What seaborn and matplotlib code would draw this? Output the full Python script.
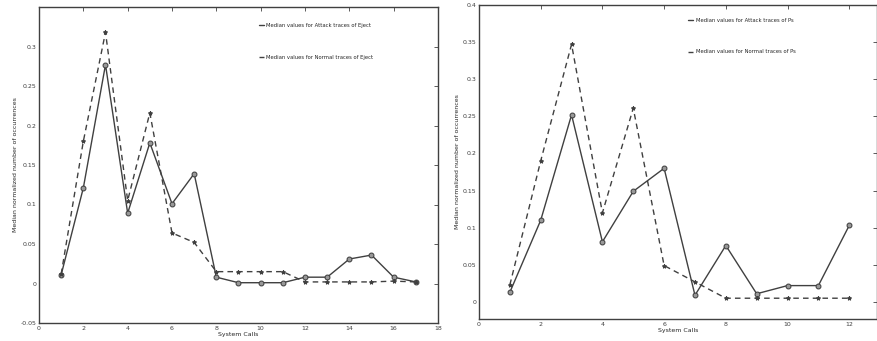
import matplotlib
matplotlib.use('Agg')
import matplotlib.pyplot as plt
import pandas as pd
import seaborn as sns

# Eject traces (left panel)
eject_calls = list(range(1, 18))
eject_attack = [0.011, 0.121, 0.277, 0.089, 0.178, 0.101, 0.139, 0.008, 0.001, 0.001,
                0.001, 0.008, 0.008, 0.031, 0.036, 0.008, 0.002]
eject_normal = [0.012, 0.180, 0.318, 0.105, 0.216, 0.064, 0.052, 0.015, 0.015, 0.015,
                0.015, 0.002, 0.002, 0.002, 0.002, 0.003, 0.002]

# Ps traces (right panel)
ps_calls = list(range(1, 13))
ps_attack = [0.013, 0.110, 0.252, 0.081, 0.149, 0.180, 0.009, 0.076, 0.011, 0.022, 0.022, 0.103]
ps_normal = [0.023, 0.190, 0.347, 0.120, 0.261, 0.049, 0.027, 0.005, 0.005, 0.005, 0.005, 0.005]

sns.set_style('white')
plt.rcParams['font.family'] = ['DejaVu Sans']

fig = plt.figure(figsize=(8.78, 3.41), dpi=100)
W, H = 878, 341
ax1 = fig.add_axes([39 / W, (H - 323) / H, (438 - 39) / W, (323 - 7) / H])
ax2 = fig.add_axes([479 / W, (H - 319) / H, (877 - 479) / W, (319 - 5) / H])

ink = '#404040'


def draw_panel(ax, calls, attack, normal, name, leg_anchor):
    df = pd.DataFrame({'call': calls, 'attack': attack, 'normal': normal})
    sns.lineplot(data=df, x='call', y='attack', ax=ax, color=ink, linewidth=1.0,
                 marker='o', markersize=3.5, markerfacecolor='#999999', markeredgecolor=ink,
                 label='Median values for Attack traces of ' + name)
    sns.lineplot(data=df, x='call', y='normal', ax=ax, color=ink, linewidth=1.0,
                 linestyle=(0, (4, 3)), marker='*', markersize=3, markeredgecolor=ink,
                 label='Median values for Normal traces of ' + name)
    ax.set_xlabel('System Calls', fontsize=4.5, labelpad=1)
    ax.set_ylabel('Median normalized number of occurrences', fontsize=4.5, labelpad=2)
    ax.tick_params(direction='in', length=3, width=0.6, labelsize=4.5, pad=2,
                   top=True, right=True, colors=ink)
    for s in ax.spines.values():
        s.set_color(ink)
        s.set_linewidth(1.0)
    leg = ax.legend(loc='upper left', bbox_to_anchor=leg_anchor, fontsize=3.8,
                    frameon=False, handlelength=1.0, handletextpad=0.5,
                    labelspacing=5.0, borderaxespad=0)
    for h in leg.get_lines():
        h.set_marker('')
    return leg


draw_panel(ax1, eject_calls, eject_attack, eject_normal, 'Eject', (0.545, 0.955))
ax1.set_xlim(0, 18)
ax1.set_ylim(-0.05, 0.35)
ax1.set_xticks(range(0, 19, 2))
ax1.set_yticks([-0.05, 0, 0.05, 0.1, 0.15, 0.2, 0.25, 0.3, 0.35])
ax1.set_yticklabels(['-0.05', '0', '0.05', '0.1', '0.15', '0.2', '0.25', '0.3', ''])

draw_panel(ax2, ps_calls, ps_attack, ps_normal, 'Ps', (0.52, 0.965))
ax2.set_xlim(0, 12.9)
ax2.set_ylim(-0.023, 0.4)
ax2.set_xticks(range(0, 13, 2))
ax2.set_yticks([0, 0.05, 0.1, 0.15, 0.2, 0.25, 0.3, 0.35, 0.4])
ax2.set_yticklabels(['0', '0.05', '0.1', '0.15', '0.2', '0.25', '0.3', '0.35', '0.4'])

fig.savefig('out.png', dpi=100)
